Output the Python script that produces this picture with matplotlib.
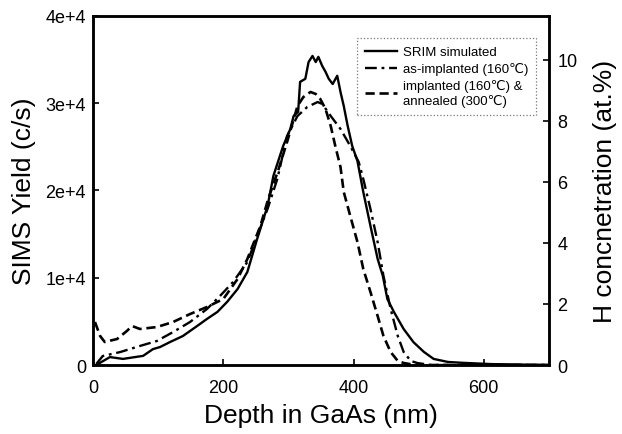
import numpy as np
import matplotlib
matplotlib.use("Agg")
import matplotlib.pyplot as plt

plt.rcParams['font.family'] = ['Liberation Sans', 'DejaVu Sans']

# SRIM simulated profile (depth nm, H at.%) - right axis
srim_depth = [5, 26, 46, 77, 92, 103, 118, 138, 160, 175, 191, 206, 222, 237, 252,
              268, 277, 292, 303, 308, 315, 318, 326, 331, 337, 342, 346, 352, 357,
              362, 368, 375, 380, 385, 391, 398, 406, 415, 426, 437, 445, 452, 462,
              477, 492, 508, 523, 545, 569, 611, 700]
srim_conc = [0.0, 0.26, 0.20, 0.30, 0.52, 0.59, 0.75, 0.95, 1.28, 1.51, 1.74, 2.07,
             2.49, 3.05, 4.13, 5.21, 6.20, 7.18, 7.74, 8.16, 8.30, 9.28, 9.38, 9.93,
             10.13, 9.93, 10.10, 9.80, 9.61, 9.38, 9.21, 9.48, 8.95, 8.49, 7.84, 7.18,
             6.69, 5.67, 4.56, 3.48, 2.92, 2.16, 1.74, 1.18, 0.75, 0.43, 0.20, 0.10,
             0.07, 0.03, 0.0]

# SIMS as-implanted (160C), counts/s - left axis
asimp_depth = [5, 15, 42, 72, 98, 123, 149, 175, 195, 215, 237, 252, 268, 283, 298,
               314, 329, 345, 352, 365, 380, 395, 408, 415, 426, 437, 446, 457, 468,
               477, 488, 498, 518, 700]
asimp_yield = [115, 1030, 1490, 2180, 2750, 3780, 4930, 6420, 7910, 9510, 11800,
               14780, 17880, 21320, 26240, 28540, 29570, 30140, 29910, 28540, 27050,
               25100, 23260, 21320, 17880, 14100, 10200, 6420, 3320, 1490, 460, 230,
               0, 0]

# SIMS implanted (160C) & annealed (300C), counts/s - left axis
anneal_depth = [3, 11, 18, 37, 52, 60, 72, 98, 123, 149, 175, 200, 222, 237, 257,
                269, 285, 298, 314, 323, 334, 342, 349, 357, 365, 372, 380, 385, 395,
                406, 415, 426, 437, 446, 457, 468, 477, 495, 700]
anneal_yield = [4930, 3320, 2640, 2980, 3900, 4470, 4130, 4350, 4930, 5840, 6650,
                7560, 9860, 12150, 15930, 19020, 22460, 25560, 29680, 30710, 31290,
                31060, 30480, 29340, 27390, 25100, 22690, 19830, 17080, 14100, 11000,
                8370, 5620, 3320, 1490, 460, 230, 0, 0]

left_ticks = [0, 1e4, 2e4, 3e4, 4e4]
left_labels = ['0', '1e+4', '2e+4', '3e+4', '4e+4']
right_ticks = [0, 2, 4, 6, 8, 10]
x_ticks = [0, 200, 400, 600]

fig = plt.figure(figsize=(6.22, 4.35), dpi=100)
ax = fig.add_axes([0.1495, 0.1586, 0.733, 0.8024])
ax2 = ax.twinx()

l2, = ax.plot(asimp_depth, asimp_yield, color='black', lw=1.7,
              dashes=(5, 2, 1.2, 2))
l3, = ax.plot(anneal_depth, anneal_yield, color='black', lw=1.9, dashes=(3.5, 1.8))
l1, = ax2.plot(srim_depth, srim_conc, color='black', lw=1.7)

ax.set_xlim(0, 700)
ax.set_ylim(0, 4e4)
ax2.set_ylim(0, 11.44)
ax.set_xticks(x_ticks)
ax.set_yticks(left_ticks)
ax.set_yticklabels(left_labels)
ax2.set_yticks(right_ticks)

for a in (ax, ax2):
    a.tick_params(direction='in', length=4, width=1.2, labelsize=13)
    for s in a.spines.values():
        s.set_linewidth(1.8)
ax.tick_params(axis='x', pad=10)
ax.tick_params(axis='y', pad=5)
ax2.tick_params(axis='y', pad=6)

ax.set_xlabel('Depth in GaAs (nm)', fontsize=19, labelpad=5)
ax.set_ylabel('SIMS Yield (c/s)', fontsize=19, labelpad=7)
ax2.set_ylabel('H concnetration (at.%)', fontsize=19, labelpad=11)

leg = ax2.legend([l1, l2, l3],
                 ['SRIM simulated', 'as-implanted (160\u2103)',
                  'implanted (160\u2103) &\nannealed (300\u2103)'],
                 loc='upper right', bbox_to_anchor=(0.987, 0.955), fontsize=9.5,
                 frameon=True, fancybox=False, handlelength=2.4,
                 handletextpad=0.5, borderpad=0.6, labelspacing=0.3)
leg.get_frame().set_edgecolor('#555555')
leg.get_frame().set_linestyle(':')
leg.get_frame().set_linewidth(0.9)

fig.savefig('out.png', dpi=100)
